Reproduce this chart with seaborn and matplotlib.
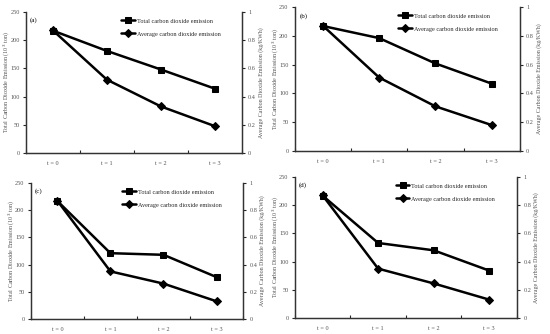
import pandas as pd
import matplotlib.pyplot as plt
import seaborn as sns

steps = ["t = 0", "t = 1", "t = 2", "t = 3"]
panels = ["(a)", "(b)", "(c)", "(d)"]

# total emission (10^3 ton), left axis
total_a = [217, 181, 148, 114]
total_b = [217, 196, 152, 117]
total_c = [217, 121, 118, 77]
total_d = [217, 133, 120, 84]

# average emission (kg/KWh), right axis
avg_a = [0.87, 0.52, 0.33, 0.19]
avg_b = [0.87, 0.51, 0.31, 0.18]
avg_c = [0.87, 0.35, 0.26, 0.13]
avg_d = [0.87, 0.35, 0.245, 0.13]

totals = [total_a, total_b, total_c, total_d]
avgs = [avg_a, avg_b, avg_c, avg_d]

sns.set_style("ticks")
plt.rcParams["font.family"] = ["Liberation Serif", "DejaVu Serif"]

W, H = 550, 334
fig = plt.figure(figsize=(W / 100, H / 100), dpi=100)

# axes rectangles [left, bottom, width, height] in figure fractions
rects = [
    [0.047, 0.542, 0.393, 0.422],
    [0.536, 0.548, 0.409, 0.431],
    [0.056, 0.045, 0.386, 0.407],
    [0.536, 0.048, 0.404, 0.422],
]

grey = "#555555"

for i in range(4):
    ax = fig.add_axes(rects[i])
    ax2 = ax.twinx()
    df = pd.DataFrame({"step": range(4), "total": totals[i], "avg": avgs[i]})

    sns.lineplot(data=df, x="step", y="total", ax=ax, color="black", lw=1.8,
                 marker="s", markersize=5, markeredgecolor="black",
                 label="Total carbon dioxide emission", legend=False)
    sns.lineplot(data=df, x="step", y="avg", ax=ax2, color="black", lw=1.8,
                 marker="D", markersize=4, markeredgecolor="black",
                 label="Average carbon dioxide emission", legend=False)

    ax.set_xlim(-0.5, 3.5)
    ax.set_ylim(0, 250)
    ax2.set_ylim(0, 1)
    ax.set_yticks([0, 50, 100, 150, 200, 250])
    ax2.set_yticks([0, 0.2, 0.4, 0.6, 0.8, 1])
    ax2.set_yticklabels(["0", "0.2", "0.4", "0.6", "0.8", "1"])

    # category labels between boundary ticks
    ax.set_xticks([-0.5, 0.5, 1.5, 2.5, 3.5])
    ax.set_xticklabels([])
    ax.set_xticks(range(4), minor=True)
    ax.set_xticklabels(steps, minor=True)
    ax.tick_params(axis="x", which="minor", length=0, labelsize=4.5,
                   labelcolor=grey, pad=6)
    ax.tick_params(axis="x", which="major", direction="in", length=2.5, width=0.8)
    ax.tick_params(axis="y", length=2.5, width=0.8, labelsize=4.5,
                   labelcolor=grey, pad=2)
    ax2.tick_params(axis="y", length=2.5, width=0.8, labelsize=4.5,
                    labelcolor=grey, pad=2)

    ax.set_xlabel("")
    ax.set_ylabel("Total Carbon Dioxide Emission (10$^3$ ton)", fontsize=4.3,
                  color=grey)
    ax2.set_ylabel("Average Carbon Dioxide Emission (kg/KWh)", fontsize=4.3,
                   color=grey, rotation=90)
    wpx = rects[i][2] * W
    ax.yaxis.set_label_coords(-15 / wpx, 0.5)
    ax2.yaxis.set_label_coords(1 + 16 / wpx, 0.5)

    for a in (ax, ax2):
        a.spines["top"].set_visible(False)
        for s in ("left", "right", "bottom"):
            a.spines[s].set_color("#333333")
            a.spines[s].set_linewidth(0.9)

    ax.text(0.02, 0.96, panels[i], transform=ax.transAxes, fontsize=5,
            va="top", ha="left", color="black")

    h1, l1 = ax.get_legend_handles_labels()
    h2, l2 = ax2.get_legend_handles_labels()
    ax2.legend(h1 + h2, l1 + l2, loc="upper right", frameon=False, fontsize=4.5,
               handlelength=2.2, handletextpad=0.3, labelspacing=1.2,
               borderaxespad=0.6, bbox_to_anchor=(0.93, 1.0))

fig.savefig("out.png", dpi=100)
